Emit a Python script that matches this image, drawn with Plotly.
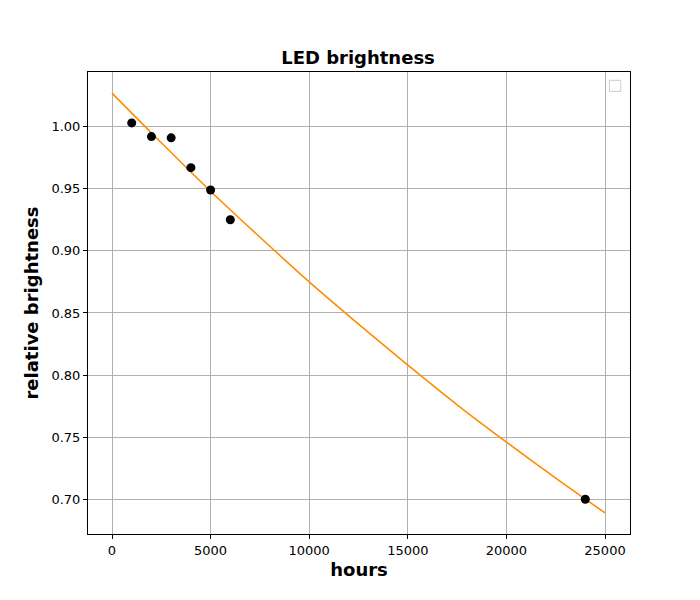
import plotly.graph_objects as go

# measured data
hours = [1000, 2000, 3000, 4000, 5000, 6000, 24000]
brightness = [1.003, 0.992, 0.991, 0.967, 0.949, 0.925, 0.700]

# fitted curve
fit_hours = [0, 2500, 5000, 7500, 10000, 12500, 15000, 17500, 20000, 22500, 25000]
fit_brightness = [1.027, 0.987, 0.948, 0.911, 0.875, 0.841, 0.808, 0.776, 0.746, 0.717, 0.689]

x_ticks = [0, 5000, 10000, 15000, 20000, 25000]
y_ticks = [0.70, 0.75, 0.80, 0.85, 0.90, 0.95, 1.00]

fig = go.Figure()
fig.add_trace(go.Scatter(x=fit_hours, y=fit_brightness, mode='lines',
                         line=dict(color='darkorange', width=1.6, shape='spline'),
                         showlegend=False))
fig.add_trace(go.Scatter(x=hours, y=brightness, mode='markers',
                         marker=dict(color='black', size=9), showlegend=False))

# empty legend box, as in the original
fig.add_shape(type='rect', xref='paper', yref='paper',
              x0=0.962, x1=0.983, y0=0.958, y1=0.982,
              line=dict(color='#cccccc', width=1), fillcolor='white')

axis_common = dict(showgrid=True, gridcolor='#b0b0b0', gridwidth=1, zeroline=False,
                   showline=True, linecolor='black', mirror=True, ticks='outside',
                   ticklen=4, tickcolor='black',
                   tickfont=dict(family='DejaVu Sans', size=13, color='black'))

fig.update_layout(
    width=700, height=600,
    title=dict(text='<b>LED brightness</b>', x=0.5, xanchor='center', y=0.918,
               yanchor='middle',
               font=dict(family='DejaVu Sans', size=18, color='black')),
    plot_bgcolor='white', paper_bgcolor='white',
    margin=dict(l=80, r=78, t=64, b=74),
    xaxis=dict(range=[-1217, 26268], tickvals=x_ticks,
               ticktext=[str(v) for v in x_ticks],
               title=dict(text='<b>hours</b>', font=dict(family='DejaVu Sans', size=18, color='black'),
                          standoff=6),
               **axis_common),
    yaxis=dict(range=[0.672, 1.044], tickvals=y_ticks,
               tickformat='.2f',
               title=dict(text='<b>relative brightness</b>', font=dict(family='DejaVu Sans', size=18, color='black'),
                          standoff=8),
               **axis_common),
)

fig.write_html("out.html")
